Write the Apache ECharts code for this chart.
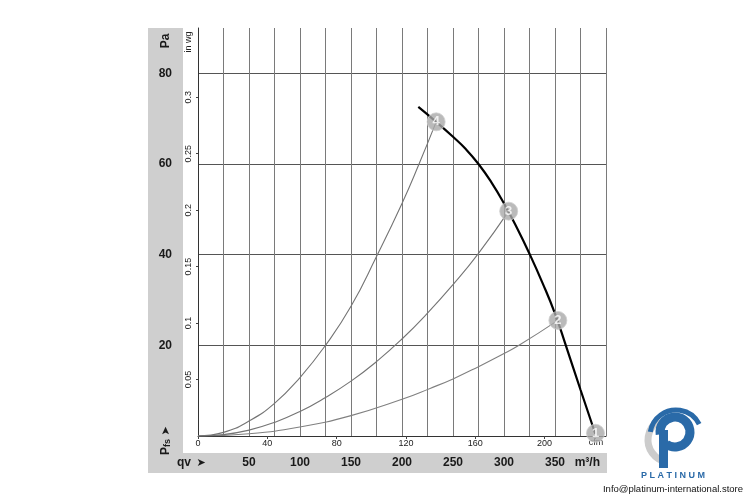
<!DOCTYPE html>
<html>
<head>
<meta charset="utf-8">
<script src="https://cdn.jsdelivr.net/npm/echarts@6/dist/echarts.min.js"></script>
<style>
html,body{margin:0;padding:0;background:#fff;}
#chart{width:750px;height:500px;}
</style>
</head>
<body>
<div id="chart"></div>
<script>
// ---- data (airflow qv in m³/h, static pressure Pfs in Pa) ----
const fanCurveQ  = [216, 233.5, 250, 262.5, 275, 287.5, 300, 312.5, 325, 337.5, 350, 360.6, 375, 389.5];
const fanCurvePa = [72.6, 69.3, 66.0, 63.3, 60.0, 56.0, 51.3, 46.0, 40.2, 33.9, 27.0, 20.0, 10.2, 0.5];

const sys4Q  = [0, 25, 50, 75, 100, 125, 150, 175, 200, 216.7, 233.5];
const sys4Pa = [0, 0.8, 3.3, 7.2, 12.9, 20, 28.6, 39.6, 51.3, 60, 69.3];

const sys3Q  = [0, 25, 50, 75, 100, 125, 150, 175, 200, 225, 250, 275, 304.6];
const sys3Pa = [0, 0.3, 1.3, 3.0, 5.4, 8.5, 12.1, 16.4, 21.4, 27.1, 33.4, 40.3, 49.6];

const sys2Q  = [0, 50, 100, 150, 200, 227.5, 250, 275, 300, 314.7, 352.8];
const sys2Pa = [0, 0.5, 2.0, 4.5, 8.1, 10.5, 12.6, 15.3, 18.2, 20, 25.5];

const pointLabels = ['1', '2', '3', '4'];
const pointQ  = [389.7, 352.8, 304.6, 233.5];
const pointPa = [0.6, 25.5, 49.6, 69.3];

const qvTickLabels  = [50, 100, 150, 200, 250, 300, 350];
const cfmTickLabels = [0, 40, 80, 120, 160, 200];
const paTickLabels  = [20, 40, 60, 80];
const inwgTickLabels = [0.05, 0.1, 0.15, 0.2, 0.25, 0.3];

const QV_MAX = 400, PA_MAX = 90;
const CFM_PER_M3H = 0.588578;
const PA_PER_INWG = 249.089;

const zip = (a, b) => a.map((v, i) => [v, b[i]]);
const FONT = "'Liberation Sans', Arial, sans-serif";

const chart = echarts.init(document.getElementById('chart'), null, {renderer: 'canvas'});

const option = {
  backgroundColor: '#ffffff',
  animation: false,
  textStyle: {fontFamily: FONT},
  grid: {left: 198, right: 144, top: 28, bottom: 64, containLabel: false},
  xAxis: [
    {
      type: 'value', min: 0, max: QV_MAX, interval: 25,
      axisLine: {show: true, lineStyle: {color: '#333', width: 1}},
      axisTick: {show: false},
      axisLabel: {
        customValues: qvTickLabels, showMinLabel: true, showMaxLabel: true,
        margin: 21, fontSize: 12, fontWeight: 'bold', color: '#1a1a1a', fontFamily: FONT,
        formatter: v => String(Math.round(v))
      },
      splitLine: {show: true, showMinLine: false, showMaxLine: true, lineStyle: {color: '#7a7a7a', width: 1}}
    },
    {
      type: 'value', min: 0, max: QV_MAX * CFM_PER_M3H, interval: 40, position: 'bottom',
      axisLine: {show: false},
      axisTick: {show: true, customValues: cfmTickLabels, length: 3, lineStyle: {color: '#444'}},
      axisLabel: {
        customValues: cfmTickLabels, showMinLabel: true, showMaxLabel: true,
        margin: 3, fontSize: 9, color: '#222', fontFamily: FONT,
        formatter: v => String(Math.round(v))
      },
      splitLine: {show: false}
    }
  ],
  yAxis: [
    {
      type: 'value', min: 0, max: PA_MAX, interval: 20,
      axisLine: {show: true, lineStyle: {color: '#333', width: 1}},
      axisTick: {show: false},
      axisLabel: {
        customValues: paTickLabels, showMinLabel: true, showMaxLabel: true,
        margin: 26, fontSize: 12, fontWeight: 'bold', color: '#1a1a1a', fontFamily: FONT,
        formatter: v => String(Math.round(v))
      },
      splitLine: {show: true, showMinLine: false, showMaxLine: false, lineStyle: {color: '#555', width: 1}}
    },
    {
      type: 'value', min: 0, max: PA_MAX / PA_PER_INWG, interval: 0.05, position: 'left',
      axisLine: {show: false},
      axisTick: {show: true, customValues: inwgTickLabels, length: 2, lineStyle: {color: '#444'}},
      axisLabel: {
        customValues: inwgTickLabels, showMinLabel: true, showMaxLabel: true,
        margin: 5, fontSize: 9, color: '#222', rotate: 90, fontFamily: FONT,
        formatter: v => String(Math.round(v * 100) / 100)
      },
      splitLine: {show: false}
    }
  ],
  series: [
    {
      type: 'line', name: 'sys2', data: zip(sys2Q, sys2Pa), smooth: true, symbol: 'none',
      lineStyle: {color: '#808080', width: 1.1}, z: 3
    },
    {
      type: 'line', name: 'sys3', data: zip(sys3Q, sys3Pa), smooth: true, symbol: 'none',
      lineStyle: {color: '#747474', width: 1.1}, z: 3
    },
    {
      type: 'line', name: 'sys4', data: zip(sys4Q, sys4Pa), smooth: true, symbol: 'none',
      lineStyle: {color: '#747474', width: 1.1}, z: 3
    },
    {
      type: 'line', name: 'fan', data: zip(fanCurveQ, fanCurvePa), smooth: true, symbol: 'none',
      lineStyle: {color: '#000', width: 2.2}, z: 4
    },
    {
      type: 'scatter', name: 'points',
      data: pointQ.map((q, i) => ({value: [q, pointPa[i]], name: pointLabels[i]})),
      symbol: 'circle', symbolSize: 18,
      itemStyle: {color: '#a9a9a9', borderColor: '#d0d0d0', borderWidth: 1},
      label: {
        show: true, position: 'inside', formatter: p => p.name,
        color: '#fff', fontSize: 13, fontWeight: 'bold', fontFamily: FONT
      },
      z: 6
    }
  ],
  graphic: [
    // grey bands
    {type: 'rect', z: -1, shape: {x: 148, y: 28, width: 35, height: 444}, style: {fill: '#cfcfcf'}},
    {type: 'rect', z: -1, shape: {x: 148, y: 453, width: 459, height: 20}, style: {fill: '#cfcfcf'}},
    // axis titles
    {type: 'text', x: 166, y: 41, rotation: Math.PI / 2,
      style: {text: 'Pa', font: 'bold 12px ' + FONT, fill: '#1a1a1a', textAlign: 'center', textVerticalAlign: 'middle'}},
    {type: 'text', x: 189, y: 42, rotation: Math.PI / 2,
      style: {text: 'in wg', font: '9px ' + FONT, fill: '#222', textAlign: 'center', textVerticalAlign: 'middle'}},
    {type: 'text', x: 166, y: 431, rotation: Math.PI / 2,
      style: {text: '➤', font: 'bold 11px DejaVu Sans', fill: '#1a1a1a', textAlign: 'center', textVerticalAlign: 'middle'}},
    {type: 'text', x: 166, y: 447, rotation: Math.PI / 2,
      style: {text: '{a|P}{b|fs}', rich: {a: {font: 'bold 12px ' + FONT, fill: '#1a1a1a'}, b: {font: 'bold 9px ' + FONT, fill: '#1a1a1a', padding: [4, 0, 0, 0]}},
        textAlign: 'center', textVerticalAlign: 'middle'}},
    {type: 'text', x: 184, y: 463,
      style: {text: 'qv', font: 'bold 12px ' + FONT, fill: '#1a1a1a', textAlign: 'center', textVerticalAlign: 'middle'}},
    {type: 'text', x: 201, y: 463,
      style: {text: '➤', font: 'bold 11px DejaVu Sans', fill: '#1a1a1a', textAlign: 'center', textVerticalAlign: 'middle'}},
    {type: 'text', x: 600, y: 463,
      style: {text: 'm³/h', font: 'bold 12px ' + FONT, fill: '#1a1a1a', textAlign: 'right', textVerticalAlign: 'middle'}},
    {type: 'text', x: 596, y: 443, z: 0,
      style: {text: 'cfm', font: '9px ' + FONT, fill: '#222', textAlign: 'center', textVerticalAlign: 'middle'}},
    // logo
    {type: 'arc', shape: {cx: 670, cy: 440, r: 22, startAngle: Math.PI * 0.55, endAngle: Math.PI * 1.35},
      style: {stroke: '#cccccc', lineWidth: 7, fill: null}},
    {type: 'arc', shape: {cx: 675, cy: 432, r: 15, startAngle: -Math.PI * 1.05, endAngle: Math.PI * 0.7},
      style: {stroke: '#2a6aa8', lineWidth: 9, fill: null}},
    {type: 'rect', shape: {x: 659, y: 430, width: 9, height: 38}, style: {fill: '#2a6aa8'}},
    {type: 'arc', shape: {cx: 676, cy: 436, r: 26, startAngle: -Math.PI * 0.95, endAngle: -Math.PI * 0.15},
      style: {stroke: '#2a6aa8', lineWidth: 5, fill: null}},
    {type: 'text', x: 673, y: 476,
      style: {text: 'P L A T I N U M', font: 'bold 9px ' + FONT, fill: '#2a6aa8', textAlign: 'center', textVerticalAlign: 'middle'}},
    {type: 'text', x: 673, y: 489,
      style: {text: 'Info@platinum-international.store', font: '9.5px ' + FONT, fill: '#111', textAlign: 'center', textVerticalAlign: 'middle'}}
  ]
};

chart.setOption(option);
</script>
</body>
</html>
